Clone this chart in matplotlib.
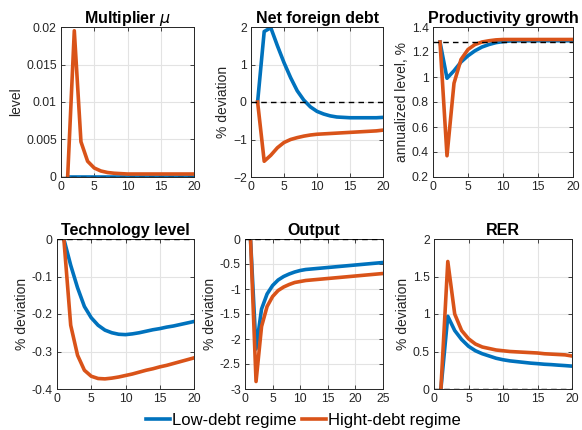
import matplotlib.pyplot as plt
import numpy as np

plt.rcParams['font.family'] = ['Liberation Sans', 'DejaVu Sans']

BLUE = '#0072BD'
ORANGE = '#D95319'

# periods
t20 = list(range(1, 21))
t25 = list(range(1, 26))

# Multiplier mu
mu_low = [0.0] * 20
mu_high = [0, 0.0195, 0.0047, 0.0021, 0.0012, 0.0008, 0.0006, 0.0005, 0.00045, 0.0004,
           0.0004, 0.0004, 0.0004, 0.0004, 0.0004, 0.0004, 0.0004, 0.0004, 0.0004, 0.0004]

# Net foreign debt
nfd_low = [0, 1.88, 1.98, 1.5, 1.05, 0.65, 0.3, 0.05, -0.13, -0.25,
           -0.32, -0.37, -0.4, -0.41, -0.42, -0.42, -0.42, -0.42, -0.42, -0.41]
nfd_high = [0, -1.58, -1.42, -1.22, -1.08, -1.0, -0.95, -0.91, -0.88, -0.86,
            -0.85, -0.84, -0.83, -0.82, -0.81, -0.8, -0.79, -0.78, -0.77, -0.75]

# Productivity growth
pg_low = [1.28, 0.99, 1.05, 1.12, 1.17, 1.21, 1.24, 1.26, 1.275, 1.283,
          1.288, 1.29, 1.29, 1.29, 1.29, 1.29, 1.29, 1.29, 1.29, 1.29]
pg_high = [1.28, 0.37, 0.95, 1.14, 1.22, 1.26, 1.28, 1.29, 1.297, 1.3,
           1.3, 1.3, 1.3, 1.3, 1.3, 1.3, 1.3, 1.3, 1.3, 1.3]
pg_ss = 1.28

# Technology level
tech_low = [0, -0.07, -0.13, -0.18, -0.21, -0.23, -0.243, -0.25, -0.254, -0.255,
            -0.253, -0.25, -0.246, -0.242, -0.239, -0.235, -0.232, -0.228, -0.224, -0.22]
tech_high = [0, -0.23, -0.31, -0.35, -0.366, -0.372, -0.373, -0.371, -0.368, -0.364,
             -0.36, -0.355, -0.35, -0.346, -0.341, -0.337, -0.332, -0.327, -0.322, -0.317]

# Output
out_low = [0, -2.2, -1.4, -1.1, -0.93, -0.82, -0.75, -0.7, -0.66, -0.63,
           -0.61, -0.6, -0.59, -0.58, -0.57, -0.56, -0.55, -0.54, -0.53, -0.52,
           -0.51, -0.5, -0.49, -0.48, -0.47]
out_high = [0, -2.85, -1.75, -1.35, -1.15, -1.03, -0.96, -0.91, -0.87, -0.85,
            -0.83, -0.82, -0.81, -0.8, -0.79, -0.78, -0.77, -0.76, -0.75, -0.74,
            -0.73, -0.72, -0.71, -0.7, -0.69]

# RER
rer_low = [0, 0.97, 0.78, 0.66, 0.57, 0.51, 0.47, 0.44, 0.41, 0.39,
           0.375, 0.365, 0.355, 0.345, 0.338, 0.33, 0.325, 0.318, 0.312, 0.305]
rer_high = [0, 1.7, 1.0, 0.78, 0.67, 0.6, 0.56, 0.54, 0.52, 0.51,
            0.5, 0.495, 0.49, 0.485, 0.48, 0.47, 0.465, 0.46, 0.455, 0.44]

panels = [
    dict(title=r'Multiplier $\mu$', t=t20, low=mu_low, high=mu_high, ref=0.0,
         ylabel='level', ylim=(0, 0.02), yticks=[0, 0.005, 0.01, 0.015, 0.02],
         yticklabels=['0', '0.005', '0.01', '0.015', '0.02'], xmax=20),
    dict(title='Net foreign debt', t=t20, low=nfd_low, high=nfd_high, ref=0.0,
         ylabel='% deviation', ylim=(-2, 2), yticks=[-2, -1, 0, 1, 2],
         yticklabels=None, xmax=20),
    dict(title='Productivity growth', t=t20, low=pg_low, high=pg_high, ref=pg_ss,
         ylabel='annualized level, %', ylim=(0.2, 1.4),
         yticks=[0.2, 0.4, 0.6, 0.8, 1.0, 1.2, 1.4],
         yticklabels=['0.2', '0.4', '0.6', '0.8', '1', '1.2', '1.4'], xmax=20),
    dict(title='Technology level', t=t20, low=tech_low, high=tech_high, ref=0.0,
         ylabel='% deviation', ylim=(-0.4, 0), yticks=[-0.4, -0.3, -0.2, -0.1, 0],
         yticklabels=['-0.4', '-0.3', '-0.2', '-0.1', '0'], xmax=20),
    dict(title='Output', t=t25, low=out_low, high=out_high, ref=0.0,
         ylabel='% deviation', ylim=(-3, 0), yticks=[-3, -2.5, -2, -1.5, -1, -0.5, 0],
         yticklabels=['-3', '-2.5', '-2', '-1.5', '-1', '-0.5', '0'], xmax=25),
    dict(title='RER', t=t20, low=rer_low, high=rer_high, ref=0.0,
         ylabel='% deviation', ylim=(0, 2), yticks=[0, 0.5, 1, 1.5, 2],
         yticklabels=['0', '0.5', '1', '1.5', '2'], xmax=20),
]

# axes boxes in pixels: left, right, top, bottom
W, H = 582, 430
boxes = [(61, 194, 27, 177), (251, 383, 27, 177), (433, 573, 27, 177),
         (57, 194, 239, 389), (245, 383, 239, 389), (434, 572, 239, 389)]

fig = plt.figure(figsize=(W / 100, H / 100), dpi=100)

handles = None
for p, (l, r, tp, b) in zip(panels, boxes):
    ax = fig.add_axes([l / W, 1 - b / H, (r - l) / W, (b - tp) / H])
    ax.axhline(p['ref'], color='black', ls=(0, (4, 3)), lw=1.0, zorder=3)
    h1, = ax.plot(p['t'], p['low'], color=BLUE, lw=2.6, zorder=2)
    h2, = ax.plot(p['t'], p['high'], color=ORANGE, lw=2.6, zorder=2)
    handles = (h1, h2)
    ax.set_xlim(0, p['xmax'])
    ax.set_xticks(np.arange(0, p['xmax'] + 1, 5))
    ax.set_ylim(*p['ylim'])
    ax.set_yticks(p['yticks'])
    if p['yticklabels'] is not None:
        ax.set_yticklabels(p['yticklabels'])
    ax.grid(True, color='#e3e3e3', lw=0.8)
    ax.set_axisbelow(True)
    ax.tick_params(direction='in', length=3, width=0.6, labelsize=8.7,
                   top=True, right=True, colors='#262626', pad=3)
    for s in ax.spines.values():
        s.set_linewidth(0.7)
        s.set_color('#262626')
    ax.set_title(p['title'], fontsize=11.5, fontweight='bold', pad=3)
    ax.set_ylabel(p['ylabel'], fontsize=10, color='#262626', labelpad=2)

fig.legend(handles, ['Low-debt regime', 'Hight-debt regime'], loc='center',
           bbox_to_anchor=(303 / W, 1 - 420 / H), ncol=2, frameon=False,
           fontsize=12, handlelength=1.45, handletextpad=0.1, columnspacing=0.35,
           borderpad=0.2)

fig.savefig('out.png', dpi=100)
